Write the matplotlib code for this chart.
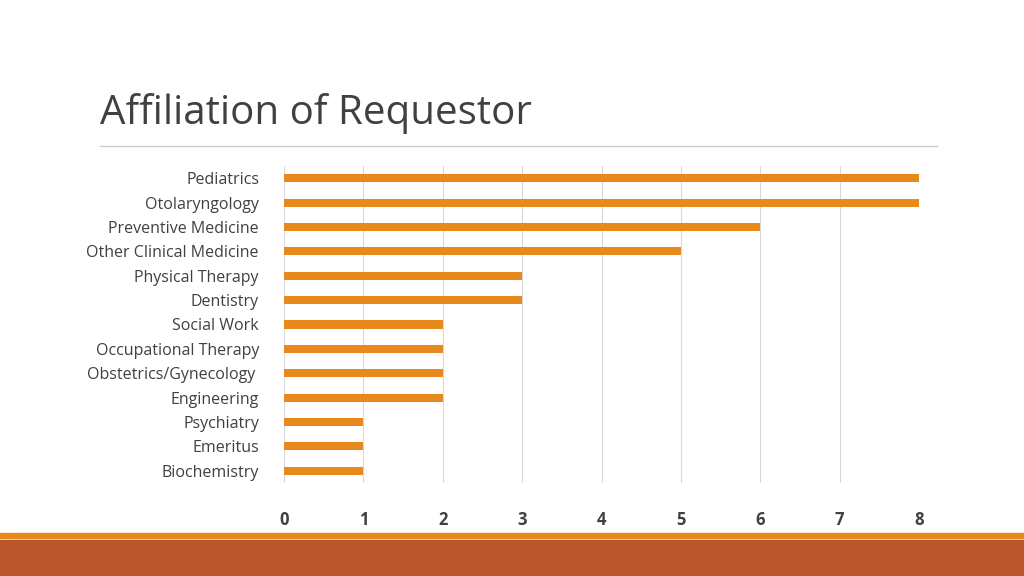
import matplotlib.pyplot as plt
from matplotlib.patches import Rectangle
from matplotlib.lines import Line2D

categories = ["Pediatrics", "Otolaryngology", "Preventive Medicine", "Other Clinical Medicine",
              "Physical Therapy", "Dentistry", "Social Work", "Occupational Therapy",
              "Obstetrics/Gynecology ", "Engineering", "Psychiatry", "Emeritus", "Biochemistry"]
counts = [8, 8, 6, 5, 3, 3, 2, 2, 2, 2, 1, 1, 1]
xticks = [0, 1, 2, 3, 4, 5, 6, 7, 8]

plt.rcParams['font.family'] = 'Open Sans'
fig = plt.figure(figsize=(10.24, 5.76), dpi=100)

# title and rule under it
fig.text(100/1024, 1-113/576, "Affiliation of Requestor", fontsize=29, color='#404040', va='center')
fig.add_artist(Line2D([100/1024, 937/1024], [1-146/576, 1-146/576], color='#cccccc', lw=1))

# bottom bands
fig.add_artist(Rectangle((0, 0), 1, 36/576, color='#B9562B', transform=fig.transFigure))
fig.add_artist(Rectangle((0, 38/576), 1, 5/576, color='#E8891C', transform=fig.transFigure))

ax = fig.add_axes([284/1024, 1-483/576, 635/1024, 317/576])
y = list(range(len(categories)))
ax.barh(y, counts, height=0.33, color='#E8891C', zorder=3)
ax.set_ylim(len(categories)-0.5, -0.5)
ax.set_xlim(0, 8)
ax.set_yticks(y)
ax.set_yticklabels(categories, fontsize=11.5, color='#404040')
ax.set_xticks(xticks)
ax.set_xticklabels([str(t) for t in xticks], fontsize=12, color='#404040', fontweight='bold')
ax.tick_params(length=0, axis='y', pad=18)
ax.tick_params(length=0, axis='x', pad=20)
ax.grid(axis='x', color='#d9d9d9', lw=0.8, zorder=0)
for s in ax.spines.values():
    s.set_visible(False)

fig.savefig('out.png', dpi=100)
